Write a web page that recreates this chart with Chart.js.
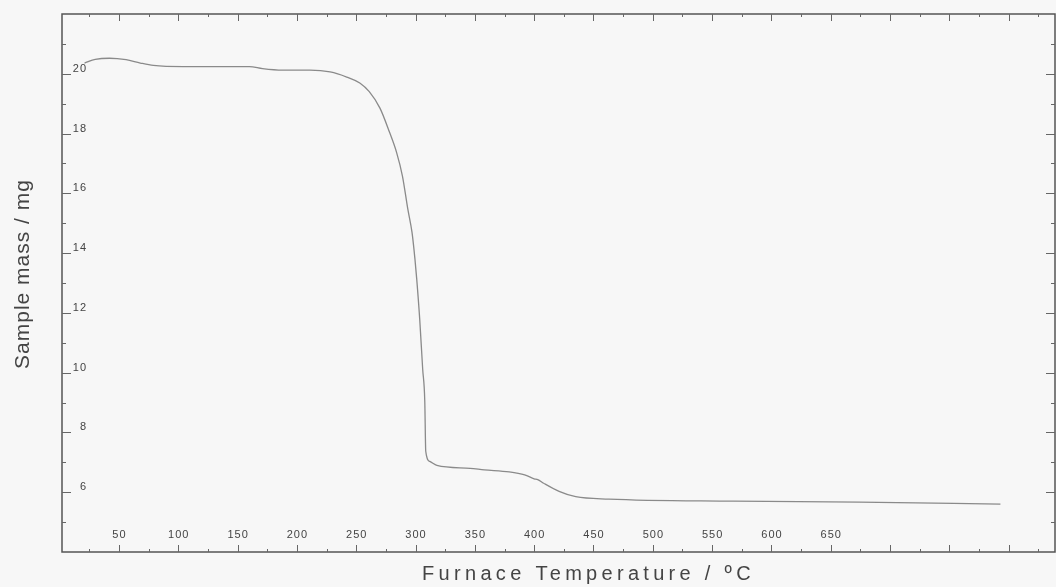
<!DOCTYPE html>
<html>
<head>
<meta charset="utf-8">
<script src="https://cdn.jsdelivr.net/npm/chart.js@4.4.0/dist/chart.umd.min.js"></script>
<style>
  body { margin: 0; background: #f7f7f7; }
  #wrap { width: 1056px; height: 587px; }
</style>
</head>
<body>
<div id="wrap"><canvas id="tgaChart" width="1056" height="587"></canvas></div>
<script>
// =====================
// DATA
// =====================
const temperature = [21, 30, 42, 56, 68, 79, 104, 160, 171, 188, 211, 228, 242, 253, 261, 270, 278, 284, 289, 293.5, 297, 299.5, 301, 303.5, 306, 307.8, 308.6, 312, 318, 346, 358, 379, 392, 400, 403, 408, 421, 435, 463, 568, 674, 793];
const sampleMass  = [20.36, 20.48, 20.52, 20.47, 20.36, 20.28, 20.24, 20.24, 20.17, 20.12, 20.12, 20.06, 19.89, 19.69, 19.40, 18.85, 18.05, 17.37, 16.57, 15.47, 14.7, 13.8, 13.13, 11.8, 10.13, 9.03, 7.37, 7.03, 6.9, 6.8, 6.75, 6.68, 6.58, 6.45, 6.42, 6.3, 6.03, 5.85, 5.77, 5.7, 5.67, 5.6];

const xTickLabels = [50, 100, 150, 200, 250, 300, 350, 400, 450, 500, 550, 600, 650];
const yTickLabels = [6, 8, 10, 12, 14, 16, 18, 20];

const xTitle = "Furnace Temperature / ºC";
const yTitle = "Sample mass / mg";

// =====================
// AXES DRAWN INSIDE THE FRAME (like the original plotter)
// =====================
const axisDecor = {
  id: "axisDecor",
  afterDraw(chart) {
    const { ctx, chartArea: a, scales: { x, y } } = chart;
    ctx.save();

    // frame
    ctx.strokeStyle = "#555";
    ctx.lineWidth = 1.5;
    ctx.strokeRect(a.left, a.top, a.right - a.left, a.bottom - a.top);

    ctx.lineWidth = 1;
    ctx.strokeStyle = "#666";
    ctx.beginPath();
    // x ticks, bottom and top (major every 50, minor every 25)
    for (let v = 25; v <= x.max; v += 25) {
      const px = Math.round(x.getPixelForValue(v)) + 0.5;
      const len = v % 50 === 0 ? 7 : 3;
      ctx.moveTo(px, a.bottom); ctx.lineTo(px, a.bottom - len);
      ctx.moveTo(px, a.top); ctx.lineTo(px, a.top + len);
    }
    // y ticks, left and right (major every 2, minor every 1)
    for (let v = 5; v <= 21; v++) {
      const py = Math.round(y.getPixelForValue(v)) + 0.5;
      const len = v % 2 === 0 ? 9 : 4;
      ctx.moveTo(a.left, py); ctx.lineTo(a.left + len, py);
      ctx.moveTo(a.right, py); ctx.lineTo(a.right - len, py);
    }
    ctx.stroke();

    // tick labels
    ctx.fillStyle = "#444";
    ctx.font = "11px 'Liberation Sans', Arial, sans-serif";
    ctx.letterSpacing = "1px";
    ctx.textAlign = "center";
    ctx.textBaseline = "middle";
    xTickLabels.forEach(v => {
      ctx.fillText(String(v), x.getPixelForValue(v) + 0.5, a.bottom - 17);
    });
    ctx.textAlign = "right";
    ctx.textBaseline = "alphabetic";
    yTickLabels.forEach(v => {
      ctx.fillText(String(v), a.left + 25, y.getPixelForValue(v) - 2);
    });

    // axis titles
    ctx.fillStyle = "#444";
    ctx.font = "20px 'Liberation Sans', Arial, sans-serif";
    ctx.letterSpacing = "4.3px";
    ctx.textAlign = "center";
    ctx.textBaseline = "middle";
    ctx.fillText(xTitle, (a.left + a.right) / 2 + 30, a.bottom + 22);

    ctx.letterSpacing = "1px";
    ctx.font = "21px 'Liberation Sans', Arial, sans-serif";
    ctx.translate(23, (a.top + a.bottom) / 2 - 9);
    ctx.rotate(-Math.PI / 2);
    ctx.fillText(yTitle, 0, 0);

    ctx.restore();
  }
};

// =====================
// CHART
// =====================
const ctx = document.getElementById("tgaChart").getContext("2d");

const tgaChart = new Chart(ctx, {
  type: "line",
  data: {
    datasets: [{
      label: yTitle,
      data: temperature.map((t, i) => ({ x: t, y: sampleMass[i] })),
      borderColor: "#8a8a8a",
      borderWidth: 1.3,
      pointRadius: 0,
      fill: false,
      cubicInterpolationMode: "monotone"
    }]
  },
  options: {
    responsive: false,
    animation: false,
    layout: { padding: { left: 62, top: 14, right: 1, bottom: 35 } },
    plugins: { legend: { display: false }, tooltip: { enabled: false } },
    scales: {
      x: { type: "linear", min: 2, max: 839, display: false },
      y: { type: "linear", min: 4, max: 22, display: false }
    }
  },
  plugins: [axisDecor]
});
</script>
</body>
</html>
